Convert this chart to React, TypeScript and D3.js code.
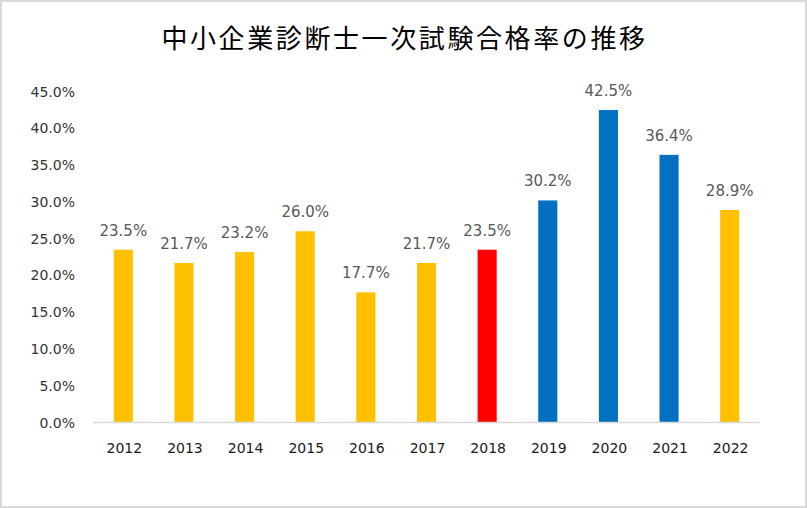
import React from "react";
import * as d3 from "d3";

const years = ["2012","2013","2014","2015","2016","2017","2018","2019","2020","2021","2022"];
const passRates = [23.5, 21.7, 23.2, 26.0, 17.7, 21.7, 23.5, 30.2, 42.5, 36.4, 28.9];
const groups = ["normal","normal","normal","normal","normal","normal","reform","high","high","high","normal"];
const yTicks = [0, 5, 10, 15, 20, 25, 30, 35, 40, 45];
const title = "中小企業診断士一次試験合格率の推移";

const W = 807;
const H = 508;
const margin = { left: 93, right: 47, top: 91.6, bottom: 85.5 };

export default function App() {
  const x = d3
    .scaleBand<string>()
    .domain(years)
    .range([margin.left, W - margin.right])
    .paddingInner(0.685)
    .paddingOuter(0.3425);
  const y = d3.scaleLinear().domain([0, 45]).range([H - margin.bottom, margin.top]);
  const color = d3
    .scaleOrdinal<string, string>()
    .domain(["normal", "reform", "high"])
    .range(["#FFC000", "#FF0000", "#0070C0"]);
  const fmt = (v: number) => v.toFixed(1) + "%";
  const font = "'DejaVu Sans', sans-serif";

  return (
    <svg
      width={W}
      height={H}
      style={{ position: "absolute", left: 0, top: 0, background: "#fff" }}
    >
      <rect x={1} y={1} width={W - 2} height={H - 2} fill="#fff" stroke="#d9d9d9" strokeWidth={2} />
      <text
        x={W / 2 + 1}
        y={36}
        textAnchor="middle"
        dominantBaseline="central"
        fontFamily="'Noto Sans CJK JP', sans-serif"
        fontSize={26}
        letterSpacing={2.6}
        fill="#000"
      >
        {title}
      </text>
      {yTicks.map((t) => (
        <text
          key={t}
          x={margin.left - 18}
          y={y(t)}
          textAnchor="end"
          dominantBaseline="central"
          fontFamily={font}
          fontSize={14}
          fill="#333"
        >
          {fmt(t)}
        </text>
      ))}
      {years.map((yr, i) => (
        <g key={yr}>
          <rect
            x={x(yr)!}
            y={y(passRates[i])}
            width={x.bandwidth()}
            height={y(0) - y(passRates[i])}
            fill={color(groups[i])}
          />
          <text
            x={x(yr)! + x.bandwidth() / 2}
            y={y(passRates[i]) - 14}
            textAnchor="middle"
            fontFamily={font}
            fontSize={15}
            fill="#595959"
          >
            {fmt(passRates[i])}
          </text>
          <text
            x={x(yr)! + x.bandwidth() / 2 + 1}
            y={447.5}
            textAnchor="middle"
            dominantBaseline="central"
            fontFamily={font}
            fontSize={14}
            fill="#1a1a1a"
          >
            {yr}
          </text>
        </g>
      ))}
      <line
        x1={margin.left}
        x2={W - margin.right}
        y1={y(0)}
        y2={y(0)}
        stroke="#d9d9d9"
        strokeWidth={1.5}
      />
    </svg>
  );
}
